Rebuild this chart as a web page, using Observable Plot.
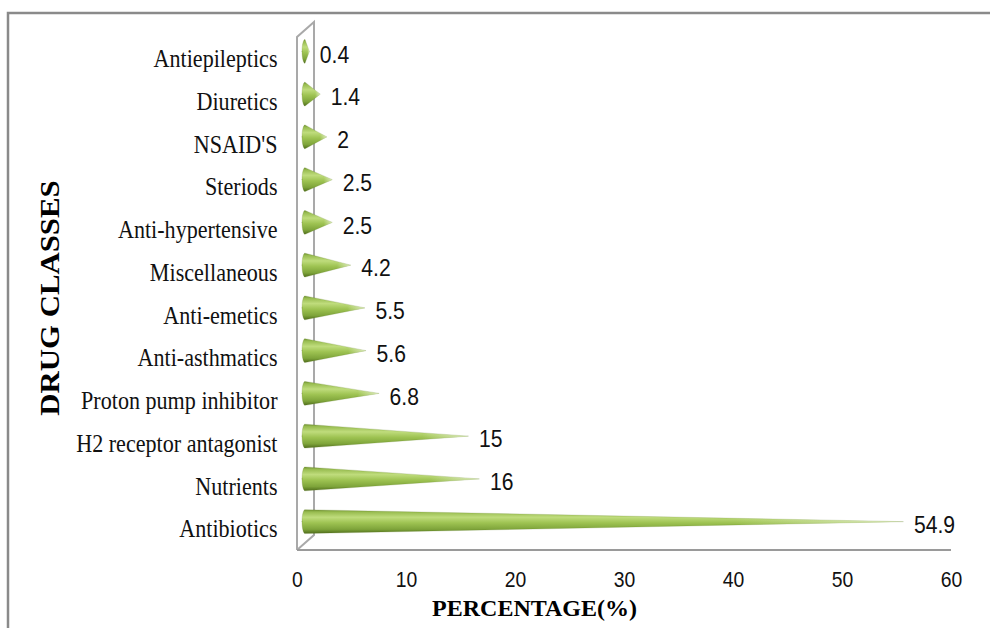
<!DOCTYPE html>
<html><head><meta charset="utf-8">
<script src="https://cdn.jsdelivr.net/npm/d3@7"></script>
<script src="https://cdn.jsdelivr.net/npm/@observablehq/plot@0.6"></script>
<style>
body{margin:0;background:#fff}
#chart{width:990px;height:628px;position:relative}
</style>
</head><body><div id="chart"></div>
<script>
// ---- data (bottom to top) ----
const categories = ["Antibiotics","Nutrients","H2 receptor antagonist","Proton pump inhibitor","Anti-asthmatics","Anti-emetics","Miscellaneous","Anti-hypertensive","Steriods","NSAID'S","Diuretics","Antiepileptics"];
const values = [54.9,16,15,6.8,5.6,5.5,4.2,2.5,2.5,2,1.4,0.4];
const valueLabels = ["54.9","16","15","6.8","5.6","5.5","4.2","2.5","2.5","2","1.4","0.4"];
const xTicks = [0,10,20,30,40,50,60];
const xTitle = "PERCENTAGE(%)";
const yTitle = "DRUG CLASSES";

const W = 990, H = 628;
const mL = 297, mR = 39, mT = 37, mB = 78;
const pxPerUnit = (W - mL - mR) / 60;

const table = categories.map((name, i) => ({name, i, value: values[i], label: valueLabels[i]}));

// cone outlines: elliptical base + straight sides to the tip
const halfH = 0.28, capRx = 3 / pxPerUnit;
const coneRows = [];
for (const d of table) {
  for (let k = 0; k <= 10; k++) {
    const t = (k / 10) * Math.PI / 2;
    const h = halfH * Math.sin(t);
    coneRows.push({name: d.name, x: -capRx * Math.cos(t), lo: d.i - h, hi: d.i + h});
  }
  coneRows.push({name: d.name, x: d.value, lo: d.i, hi: d.i});
}

const shiftX = 8, shiftY = -7;

function wall(index, scales) {
  const x = scales.x, y = scales.y;
  const x0 = x(0), yTop = y(11.5), yBot = y(-0.5), xEnd = x(60);
  const g = d3.create("svg:g").attr("fill", "none");
  g.append("path")
    .attr("d", `M${x0},${yBot}V${yTop}l17,-15V${yBot - 15}L${x0},${yBot}`)
    .attr("stroke", "#a9a9a9").attr("stroke-width", 2);
  g.append("path")
    .attr("d", `M${x0},${yBot}H${xEnd}`)
    .attr("stroke", "#9a9a9a").attr("stroke-width", 2.2);
  return g.node();
}
function border() {
  return d3.create("svg:path")
    .attr("d", `M8,${H}V13H${W}`)
    .attr("fill", "none").attr("stroke", "#8a8a8a").attr("stroke-width", 2.5).node();
}

const sans = "'Liberation Sans', Arial, sans-serif";
const serif = "'Liberation Serif', 'Times New Roman', serif";

const chart = Plot.plot({
  width: W, height: H,
  marginLeft: mL, marginRight: mR, marginTop: mT, marginBottom: mB,
  style: {background: "#fff", color: "#111", fontFamily: sans},
  x: {domain: [0, 60], ticks: xTicks},
  y: {domain: [-0.5, 11.5]},
  marks: [
    border,
    wall,
    Plot.areaY(coneRows, {x: "x", y1: "lo", y2: "hi", z: "name", fill: "url(#coneV)", stroke: "#5f7f25", strokeOpacity: 0.25, strokeWidth: 0.8, dx: shiftX, dy: shiftY}),
    Plot.areaY(coneRows, {x: "x", y1: "lo", y2: "hi", z: "name", fill: "url(#coneH)", dx: shiftX, dy: shiftY}),
    Plot.axisX({ticks: xTicks, tickSize: 0, tickPadding: 21, label: null, fontSize: 22, fontFamily: sans}),
    Plot.axisY({ticks: d3.range(categories.length), tickFormat: i => categories[i], tickSize: 0, tickPadding: 20, label: null, fontSize: 26, fontFamily: serif}),
    Plot.text(table, {x: "value", y: "i", text: "label", dx: 18, dy: -4, textAnchor: "start", fontSize: 24, fontFamily: sans, fill: "#111"}),
    Plot.text([xTitle], {frameAnchor: "bottom", text: d => d, dx: -90, dy: 65, fontSize: 24, fontWeight: "bold", fontFamily: serif, fill: "#000"}),
    Plot.text([yTitle], {frameAnchor: "left", text: d => d, rotate: -90, textAnchor: "middle", dx: -247, dy: 4, fontSize: 28, fontWeight: "bold", fontFamily: serif, fill: "#000"})
  ]
});

document.getElementById("chart").appendChild(chart);

// gradients for the cones
const svg = d3.select(chart);
const defs = svg.insert("defs", ":first-child");
const gv = defs.append("linearGradient").attr("id", "coneV").attr("x1", 0).attr("y1", 0).attr("x2", 0).attr("y2", 1);
[[0, "#6f9130"], [0.1, "#98bc50"], [0.32, "#bfdc7c"], [0.55, "#9ec352"], [0.82, "#7ea43a"], [1, "#4f6c1c"]]
  .forEach(([o, c]) => gv.append("stop").attr("offset", o).attr("stop-color", c));
const gh = defs.append("linearGradient").attr("id", "coneH").attr("x1", 0).attr("y1", 0).attr("x2", 1).attr("y2", 0);
[[0, 0], [0.72, 0], [1, 0.7]]
  .forEach(([o, a]) => gh.append("stop").attr("offset", o).attr("stop-color", "#f4f9e6").attr("stop-opacity", a));

// horizontally condense text to match the reference's proportions
svg.selectAll("text").each(function () {
  const len = this.getComputedTextLength();
  if (!len) return;
  const tr = this.getAttribute("transform") || "";
  const bold = (this.parentNode.getAttribute("font-weight") || "") === "bold";
  const fam = this.parentNode.getAttribute("font-family") || "";
  const f = tr.includes("rotate") ? 1.1 : bold ? 1.0 : fam.includes("Serif") ? 0.85 : 0.88;
  this.setAttribute("textLength", len * f);
  this.setAttribute("lengthAdjust", "spacingAndGlyphs");
});
</script>
</body></html>
